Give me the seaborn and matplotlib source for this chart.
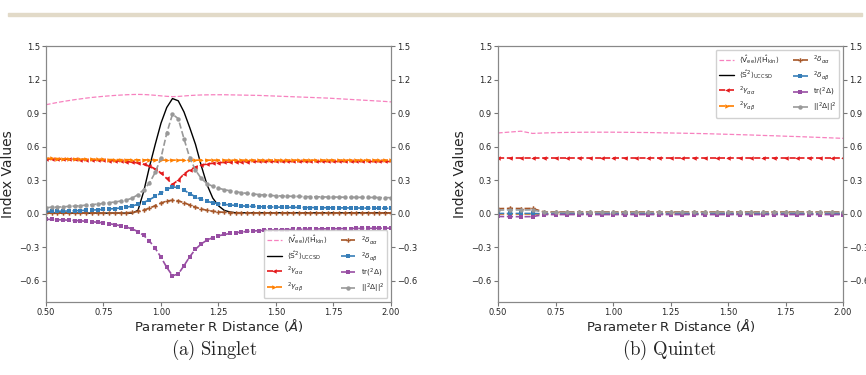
import numpy as np
import seaborn as sns
import matplotlib.pyplot as plt
from matplotlib.patches import Rectangle

sns.set_style('ticks')
plt.rcParams['font.family'] = ['DejaVu Sans']

# ---------------------------------------------------------------------------------------
# data
# ---------------------------------------------------------------------------------------

# singlet: R grid (Angstrom)
r_singlet = [0.500, 0.525, 0.550, 0.575, 0.600, 0.625, 0.650, 0.675, 0.700, 0.725,
             0.750, 0.775, 0.800, 0.825, 0.850, 0.875, 0.900, 0.925, 0.950, 0.975,
             1.000, 1.025, 1.050, 1.075, 1.100, 1.125, 1.150, 1.175, 1.200, 1.225,
             1.250, 1.275, 1.300, 1.325, 1.350, 1.375, 1.400, 1.425, 1.450, 1.475,
             1.500, 1.525, 1.550, 1.575, 1.600, 1.625, 1.650, 1.675, 1.700, 1.725,
             1.750, 1.775, 1.800, 1.825, 1.850, 1.875, 1.900, 1.925, 1.950, 1.975,
             2.000]

s_ratio = [0.975, 0.985, 0.995, 1.004, 1.012, 1.020, 1.027, 1.034, 1.040, 1.045,
           1.050, 1.054, 1.058, 1.061, 1.064, 1.066, 1.067, 1.066, 1.063, 1.059,
           1.054, 1.050, 1.047, 1.049, 1.053, 1.057, 1.060, 1.062, 1.063, 1.064,
           1.064, 1.064, 1.063, 1.062, 1.061, 1.060, 1.059, 1.058, 1.056, 1.054,
           1.052, 1.050, 1.048, 1.046, 1.044, 1.042, 1.040, 1.038, 1.036, 1.034,
           1.031, 1.028, 1.025, 1.022, 1.019, 1.016, 1.013, 1.010, 1.007, 1.004,
           1.000]

s_spin = [0.005, 0.005, 0.005, 0.005, 0.005, 0.005, 0.005, 0.005, 0.005, 0.005,
          0.005, 0.005, 0.005, 0.005, 0.005, 0.005, 0.030, 0.200, 0.420, 0.620,
          0.810, 0.950, 1.030, 1.010, 0.910, 0.770, 0.620, 0.430, 0.260, 0.140,
          0.070, 0.030, 0.015, 0.008, 0.008, 0.008, 0.008, 0.008, 0.008, 0.008,
          0.008, 0.008, 0.008, 0.008, 0.008, 0.008, 0.008, 0.008, 0.008, 0.008,
          0.008, 0.008, 0.008, 0.008, 0.008, 0.008, 0.008, 0.008, 0.008, 0.008,
          0.008]

s_gaa = [0.490, 0.489, 0.488, 0.487, 0.486, 0.485, 0.484, 0.482, 0.481, 0.479,
         0.477, 0.475, 0.473, 0.470, 0.466, 0.461, 0.454, 0.443, 0.426, 0.400,
         0.364, 0.315, 0.262, 0.300, 0.355, 0.392, 0.418, 0.434, 0.444, 0.451,
         0.456, 0.459, 0.462, 0.464, 0.465, 0.466, 0.467, 0.467, 0.467, 0.467,
         0.467, 0.467, 0.467, 0.467, 0.467, 0.467, 0.467, 0.467, 0.467, 0.467,
         0.467, 0.467, 0.467, 0.467, 0.467, 0.467, 0.467, 0.467, 0.467, 0.467,
         0.467]

s_gab = [0.495, 0.494, 0.493, 0.492, 0.491, 0.490, 0.489, 0.488, 0.487, 0.486,
         0.485, 0.484, 0.484, 0.483, 0.483, 0.482, 0.482, 0.481, 0.481, 0.480,
         0.480, 0.479, 0.479, 0.479, 0.479, 0.479, 0.479, 0.479, 0.479, 0.479,
         0.479, 0.479, 0.479, 0.479, 0.479, 0.479, 0.479, 0.479, 0.479, 0.479,
         0.479, 0.479, 0.479, 0.479, 0.479, 0.479, 0.479, 0.479, 0.479, 0.479,
         0.479, 0.479, 0.479, 0.479, 0.479, 0.479, 0.479, 0.479, 0.479, 0.479,
         0.479]

s_daa = [0.005, 0.005, 0.005, 0.005, 0.005, 0.005, 0.005, 0.005, 0.005, 0.005,
         0.005, 0.005, 0.005, 0.006, 0.008, 0.012, 0.020, 0.032, 0.050, 0.072,
         0.095, 0.113, 0.120, 0.115, 0.098, 0.078, 0.058, 0.042, 0.030, 0.022,
         0.016, 0.012, 0.010, 0.009, 0.008, 0.007, 0.007, 0.007, 0.007, 0.007,
         0.007, 0.007, 0.007, 0.007, 0.007, 0.007, 0.007, 0.007, 0.007, 0.007,
         0.007, 0.007, 0.007, 0.007, 0.007, 0.007, 0.007, 0.007, 0.007, 0.007,
         0.007]

s_dab = [0.020, 0.021, 0.022, 0.023, 0.024, 0.026, 0.028, 0.030, 0.032, 0.035,
         0.038, 0.042, 0.046, 0.051, 0.058, 0.068, 0.085, 0.100, 0.125, 0.155,
         0.185, 0.218, 0.238, 0.235, 0.210, 0.180, 0.150, 0.127, 0.110, 0.098,
         0.090, 0.083, 0.078, 0.074, 0.070, 0.067, 0.065, 0.063, 0.061, 0.060,
         0.059, 0.058, 0.057, 0.057, 0.056, 0.055, 0.055, 0.054, 0.054, 0.053,
         0.053, 0.052, 0.052, 0.051, 0.051, 0.050, 0.050, 0.049, 0.049, 0.048,
         0.048]

s_trace = [-0.050, -0.052, -0.054, -0.056, -0.058, -0.061, -0.064, -0.068, -0.072, -0.077,
           -0.083, -0.090, -0.098, -0.108, -0.120, -0.137, -0.160, -0.195, -0.245, -0.310,
           -0.390, -0.480, -0.555, -0.540, -0.465, -0.385, -0.318, -0.270, -0.237, -0.214,
           -0.198, -0.186, -0.177, -0.170, -0.164, -0.159, -0.155, -0.152, -0.149, -0.147,
           -0.145, -0.143, -0.142, -0.141, -0.140, -0.139, -0.138, -0.137, -0.136, -0.135,
           -0.135, -0.134, -0.133, -0.133, -0.132, -0.132, -0.131, -0.131, -0.130, -0.130,
           -0.129]

s_norm = [0.055, 0.057, 0.059, 0.062, 0.065, 0.068, 0.072, 0.076, 0.081, 0.086,
          0.092, 0.098, 0.105, 0.113, 0.122, 0.140, 0.170, 0.215, 0.275, 0.370,
          0.500, 0.720, 0.890, 0.850, 0.670, 0.500, 0.390, 0.315, 0.270, 0.245,
          0.228, 0.215, 0.205, 0.196, 0.188, 0.181, 0.176, 0.171, 0.167, 0.163,
          0.160, 0.158, 0.157, 0.155, 0.154, 0.153, 0.152, 0.151, 0.150, 0.149,
          0.149, 0.148, 0.147, 0.147, 0.146, 0.146, 0.145, 0.145, 0.144, 0.144,
          0.143]

# quintet: R grid (Angstrom)
r_quintet = [0.50, 0.55, 0.60, 0.65, 0.70, 0.75, 0.80, 0.85, 0.90, 0.95,
             1.00, 1.05, 1.10, 1.15, 1.20, 1.25, 1.30, 1.35, 1.40, 1.45,
             1.50, 1.55, 1.60, 1.65, 1.70, 1.75, 1.80, 1.85, 1.90, 1.95,
             2.00]

q_ratio = [0.722, 0.730, 0.738, 0.718, 0.722, 0.725, 0.727, 0.728, 0.729, 0.729,
           0.729, 0.728, 0.727, 0.726, 0.724, 0.722, 0.720, 0.718, 0.716, 0.713,
           0.710, 0.707, 0.704, 0.700, 0.697, 0.693, 0.690, 0.686, 0.682, 0.678,
           0.674]

# S(S+1) = 6 for the quintet, outside the plotted range
q_spin = [6.0] * 31

q_gaa = [0.497] * 31

q_gab = [0.0] * 31

q_daa = [0.045, 0.047, 0.046, 0.047] + [0.015] * 27

q_dab = [0.002, 0.002, 0.002, 0.002] + [-0.002] * 27

q_trace = [-0.025, -0.026, -0.027, -0.026] + [-0.008] * 27

q_norm = [0.032, 0.034, 0.033, 0.034] + [0.012] * 27

# ---------------------------------------------------------------------------------------
# styles
# ---------------------------------------------------------------------------------------
labels = [r'$\langle\hat{\mathrm{V}}_{\mathrm{ee}}\rangle/\langle\hat{\mathrm{H}}_{\mathrm{kin}}\rangle$',
          r'$\langle\hat{\mathrm{S}}^2\rangle_{\mathrm{UCCSD}}$',
          r'$^2\gamma_{\alpha\alpha}$',
          r'$^2\gamma_{\alpha\beta}$',
          r'$^2\delta_{\alpha\alpha}$',
          r'$^2\delta_{\alpha\beta}$',
          r'tr$(^2\Delta)$',
          r'$||^2\Delta||^2$']
colors = ['#f781bf', 'black', '#e41a1c', '#ff7f00', '#a65628', '#377eb8', '#984ea3', '#999999']
markers = ['', '', '<', '>', 'P', 's', 's', 'o']
linestyles = ['--', '-', '--', '--', '--', '--', '--', '--']
widths = [0.9, 1.0, 1.2, 1.2, 1.2, 1.2, 1.2, 1.2]

fig = plt.figure(figsize=(8.66, 3.75), dpi=100)

# thin beige rule at the top of the page
fig.patches.append(Rectangle((0.009, 0.957), 0.986, 0.009, transform=fig.transFigure,
                             color='#e2dac8', zorder=0))

ax1 = fig.add_axes([0.0531, 0.1947, 0.3984, 0.6826])
ax2 = fig.add_axes([0.5751, 0.1947, 0.3984, 0.6826])


def draw(ax, r, series, loc, anchor):
    for vals, lab, c, m, ls, lw in zip(series, labels, colors, markers, linestyles, widths):
        sns.lineplot(x=r, y=vals, ax=ax, color=c, marker=m, linestyle=ls, lw=lw,
                     markersize=3.2, markeredgewidth=0, label=lab, errorbar=None)
    ax.set_xlim(0.5, 2.0)
    ax.set_ylim(-0.79, 1.5)
    ax.set_xticks([0.5, 0.75, 1.0, 1.25, 1.5, 1.75, 2.0])
    ax.set_yticks([-0.6, -0.3, 0.0, 0.3, 0.6, 0.9, 1.2, 1.5])
    ax.set_xlabel(r'Parameter R Distance ($\AA$)', fontsize=9.5, labelpad=0)
    ax.set_ylabel('Index Values', fontsize=10, labelpad=3)
    ax.tick_params(labelsize=6, length=3, color='#777777', pad=1.5)
    for sp in ax.spines.values():
        sp.set_color('#888888')
    leg = ax.legend(ncol=2, fontsize=5.3, loc=loc, bbox_to_anchor=anchor,
                    handlelength=2.0, labelspacing=0.4, columnspacing=1.8,
                    borderpad=0.45, handletextpad=0.7, framealpha=0.9)
    leg.get_frame().set_edgecolor('#cccccc')
    axr = ax.twinx()
    axr.set_ylim(ax.get_ylim())
    axr.set_yticks([-0.6, -0.3, 0.0, 0.3, 0.6, 0.9, 1.2, 1.5])
    axr.tick_params(labelsize=6, length=3, color='#777777', pad=1.5)
    for sp in axr.spines.values():
        sp.set_color('#888888')


draw(ax1, r_singlet,
     [s_ratio, s_spin, s_gaa, s_gab, s_daa, s_dab, s_trace, s_norm],
     'lower right', (1.0, 0.0))
draw(ax2, r_quintet,
     [q_ratio, q_spin, q_gaa, q_gab, q_daa, q_dab, q_trace, q_norm],
     'upper right', (1.0, 1.0))

fig.text(0.247, 0.068, r'$\mathrm{(a)\ Singlet}$', ha='center', va='center',
         fontsize=13.5, math_fontfamily='cm')
fig.text(0.773, 0.068, r'$\mathrm{(b)\ Quintet}$', ha='center', va='center',
         fontsize=13.5, math_fontfamily='cm')

fig.savefig('out.png', dpi=100)
